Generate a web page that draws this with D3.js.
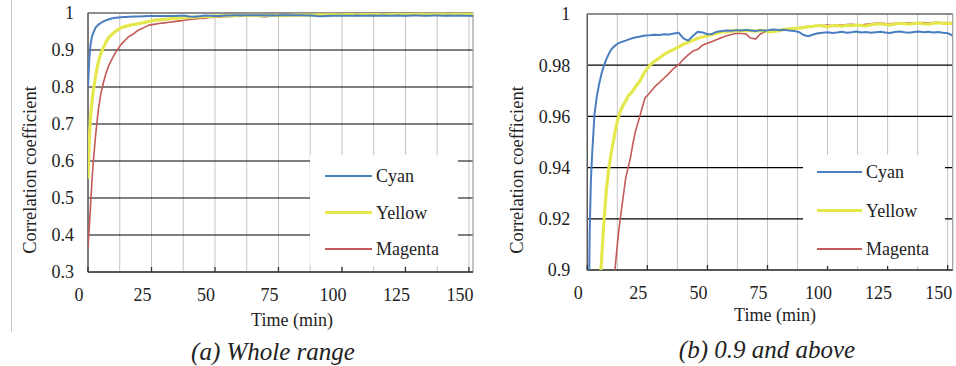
<!DOCTYPE html>
<html><head><meta charset="utf-8">
<script src="https://cdn.jsdelivr.net/npm/d3@7"></script>
<style>
html,body{margin:0;padding:0;background:#fff;}
</style>
</head>
<body>
<svg id="chart" width="956" height="366" style="display:block"></svg>
<script>
// ---- data ----
const times = [0,0.5,1,1.5,2,3,4,5,6,7,8,9,10,11,12,13,14,15,16,17,18,19,20,
  22,24,26,28,30,32,34,36,38,40,42,44,46,48,50,52,54,56,58,60,62,64,66,68,70,72,74,76,78,80,
  82,84,86,88,90,92,94,96,98,100,102,104,106,108,110,112,114,116,118,120,122,124,126,128,130,
  132,134,136,138,140,142,144,146,148,150,152];
const cyan = [0.80,0.875,0.915,0.935,0.945,0.961,0.968,0.973,0.977,0.980,0.9825,0.9845,0.9862,0.9872,0.988,0.9886,0.989,0.9893,0.9896,0.990,0.9903,0.9906,0.9908,
  0.9912,0.9916,0.9917,0.9919,0.9918,0.9921,0.9920,0.9924,0.9927,0.9905,0.9896,0.9915,0.9931,0.9928,0.9921,0.9922,0.9931,0.9934,0.9936,0.9935,0.9937,0.9936,0.9938,0.9936,0.9934,0.9937,0.9935,0.9938,0.9939,0.9937,
  0.9938,0.9936,0.9934,0.9930,0.9918,0.9913,0.9920,0.9925,0.9927,0.9929,0.9926,0.9928,0.9931,0.9927,0.9929,0.9932,0.9928,0.9930,0.9927,0.9929,0.9931,0.9928,0.9926,0.9930,0.9932,
  0.9929,0.9927,0.9930,0.9932,0.9929,0.9931,0.9928,0.9930,0.9927,0.9925,0.9916];
const yellow = [0.553,0.66,0.72,0.755,0.785,0.83,0.865,0.89,0.905,0.92,0.932,0.940,0.946,0.951,0.956,0.960,0.9625,0.9645,0.966,0.968,0.969,0.970,0.9715,
  0.974,0.9775,0.980,0.9815,0.9828,0.9842,0.9853,0.9862,0.9871,0.9882,0.9890,0.9897,0.9905,0.9910,0.9915,0.9920,0.9925,0.9930,0.9931,0.9933,0.9935,0.9934,0.9936,0.9935,0.9933,0.9936,0.9934,0.9930,0.9932,0.9936,
  0.9940,0.9942,0.9944,0.9945,0.9947,0.9950,0.9952,0.9955,0.9953,0.9950,0.9954,0.9955,0.9952,0.9956,0.9954,0.9957,0.9955,0.9953,0.9958,0.9960,0.9962,0.9959,0.9957,0.9961,0.9964,
  0.9962,0.9960,0.9963,0.9965,0.9962,0.9960,0.9964,0.9966,0.9963,0.9964,0.9962];
const magenta = [0.365,0.42,0.48,0.54,0.59,0.67,0.735,0.78,0.81,0.835,0.855,0.87,0.883,0.895,0.905,0.9145,0.922,0.929,0.936,0.940,0.944,0.9495,0.9540,
  0.9605,0.9672,0.9692,0.9715,0.9732,0.9750,0.9768,0.9788,0.9802,0.9823,0.9840,0.9855,0.9862,0.9878,0.9886,0.9893,0.9900,0.9908,0.9915,0.9920,0.9925,0.9924,0.9922,0.9906,0.9902,0.9922,0.9930,0.9934,0.9936,0.9938,
  0.9937,0.9940,0.9943,0.9946,0.9949,0.9952,0.9953,0.9956,0.9955,0.9957,0.9955,0.9958,0.9957,0.9959,0.9960,0.9958,0.9957,0.9960,0.9962,0.9964,0.9965,0.9963,0.9962,0.9964,0.9962,
  0.9964,0.9966,0.9965,0.9966,0.9967,0.9965,0.9967,0.9968,0.9966,0.9967,0.9966];
const seriesNames = ["Cyan","Yellow","Magenta"];
const xTicks = [0,25,50,75,100,125,150];
const xGrid = [12.5,25,37.5,50,62.5,75,87.5,100,112.5,125,137.5,150];
const yTicksA = [0.3,0.4,0.5,0.6,0.7,0.8,0.9,1];
const yTicksB = [0.9,0.92,0.94,0.96,0.98,1];
const captions = ["(a) Whole range","(b) 0.9 and above"];
const xTitle = "Time (min)";
const yTitle = "Correlation coefficient";

// ---- styles ----
const FONT = "Liberation Serif, Tinos, Times New Roman, serif";
const colors = {Cyan:"#4a7ebf", Yellow:"#e4e84c", Magenta:"#c4595a"};
const widths = {Cyan:2, Yellow:3.2, Magenta:1.6};
const seriesVals = {Cyan:cyan, Yellow:yellow, Magenta:magenta};

const svg = d3.select("#chart");
function txt(sel){ return sel.attr("font-family",FONT).attr("fill","#222"); }

svg.append("line").attr("x1",11.5).attr("x2",11.5).attr("y1",0).attr("y2",332)
  .attr("stroke","#c8c8c8").attr("stroke-width",1);

function panel(cfg, idx){
  const x = d3.scaleLinear().domain([0, cfg.xMax]).range([cfg.left, cfg.right]);
  const y = d3.scaleLinear().domain(cfg.yDomain).range([cfg.bottom, cfg.top]);
  const g = svg.append("g");
  const clipId = "clip"+idx;
  svg.append("defs").append("clipPath").attr("id",clipId).append("rect")
    .attr("x",cfg.left).attr("y",cfg.top-3).attr("width",cfg.right-cfg.left).attr("height",cfg.bottom-cfg.top+3);

  g.selectAll(".vg").data(xGrid).join("line")
    .attr("x1",d=>x(d)).attr("x2",d=>x(d)).attr("y1",cfg.top).attr("y2",cfg.bottom)
    .attr("stroke","#c4c4c4").attr("stroke-width",1);
  g.selectAll(".hg").data(cfg.yTicks.slice(1)).join("line")
    .attr("x1",cfg.left).attr("x2",cfg.right).attr("y1",d=>y(d)).attr("y2",d=>y(d))
    .attr("stroke","#000").attr("stroke-width",1.2);
  g.append("rect").attr("x",cfg.left).attr("y",y(cfg.yDomain[1])).attr("width",cfg.right-cfg.left)
    .attr("height",cfg.bottom-y(cfg.yDomain[1])).attr("fill","none").attr("stroke","#9a9a9a").attr("stroke-width",1.2);
  g.append("line").attr("x1",cfg.left).attr("x2",cfg.right).attr("y1",cfg.bottom).attr("y2",cfg.bottom)
    .attr("stroke","#333").attr("stroke-width",1.5);
  g.append("line").attr("x1",cfg.left).attr("x2",cfg.left).attr("y1",cfg.top).attr("y2",cfg.bottom)
    .attr("stroke","#555").attr("stroke-width",1.3);
  g.selectAll(".xt").data(xTicks).join("line")
    .attr("x1",d=>x(d)).attr("x2",d=>x(d)).attr("y1",cfg.bottom-5).attr("y2",cfg.bottom)
    .attr("stroke","#333").attr("stroke-width",1.3);

  const line = d3.line().x((d,i)=>x(times[i])).y(d=>y(d));
  const lg = g.append("g").attr("clip-path",`url(#${clipId})`);
  ["Magenta","Yellow","Cyan"].forEach(name=>{
    lg.append("path").datum(seriesVals[name]).attr("d",line)
      .attr("fill","none").attr("stroke",colors[name]).attr("stroke-width",widths[name])
      .attr("stroke-linejoin","round");
  });

  const L = cfg.legend;
  g.append("rect").attr("x",L.x0).attr("y",L.y0).attr("width",L.x1-L.x0).attr("height",L.y1-L.y0).attr("fill","#fff");
  seriesNames.forEach((name,i)=>{
    const yy = L.firstY + i*L.step;
    g.append("line").attr("x1",L.lx0).attr("x2",L.lx1).attr("y1",yy).attr("y2",yy)
      .attr("stroke",colors[name]).attr("stroke-width",name==="Yellow"?3.2:2);
    txt(g.append("text")).attr("x",L.lx1+4).attr("y",yy).attr("dy","0.35em")
      .attr("font-size",18).text(name);
  });

  txt(g.selectAll(".xl").data(xTicks).join("text"))
    .attr("x",d=>x(d)-9).attr("y",cfg.bottom+29).attr("text-anchor","middle")
    .attr("font-size",18).text(d=>d);
  txt(g.selectAll(".yl").data(cfg.yTicks).join("text"))
    .attr("x",cfg.left-cfg.labelGap).attr("y",d=>y(d)).attr("dy","0.35em").attr("text-anchor","end")
    .attr("font-size",18).text(d=>String(+d.toFixed(2)));

  txt(g.append("text")).attr("x",cfg.xTitleX).attr("y",cfg.xTitleY).attr("text-anchor","middle")
    .attr("font-size",18).text(xTitle);
  txt(g.append("text")).attr("transform",`translate(${cfg.yTitleX},${cfg.yTitleY}) rotate(-90)`)
    .attr("text-anchor","middle").attr("dy","0.35em")
    .attr("font-size",18.5).text(yTitle);
  txt(g.append("text")).attr("x",cfg.capX).attr("y",cfg.capY).attr("text-anchor","middle")
    .attr("font-size",25).attr("font-style","italic").text(captions[idx]);
}

panel({left:88, right:473, top:13, bottom:272, xMax:151.6, yDomain:[0.3,1], yTicks:yTicksA,
  labelGap:14, xTitleX:292, xTitleY:326, yTitleX:30, yTitleY:170, capX:273, capY:360,
  legend:{x0:310, x1:458, y0:155, y1:266, lx0:325, lx1:372, firstY:176, step:36.5}}, 0);
panel({left:587.3, right:952.7, top:14, bottom:270, xMax:152.1, yDomain:[0.9,1], yTicks:yTicksB,
  labelGap:17, xTitleX:775, xTitleY:321, yTitleX:517, yTitleY:170, capX:767, capY:358,
  legend:{x0:803, x1:945, y0:155, y1:266, lx0:817, lx1:862, firstY:172, step:38.5}}, 1);
</script>
</body></html>
